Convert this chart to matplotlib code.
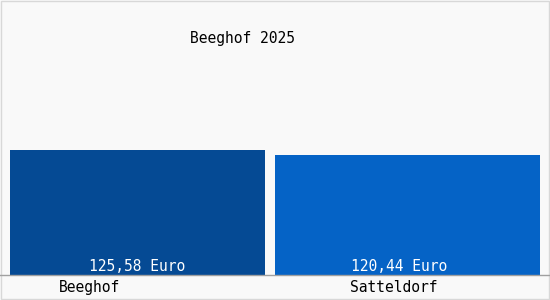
import matplotlib
matplotlib.use("Agg")
import matplotlib.pyplot as plt
from matplotlib.patches import Rectangle
from matplotlib.lines import Line2D

categories = ["Beeghof", "Satteldorf"]
values = [125.58, 120.44]
value_labels = ["125,58 Euro", "120,44 Euro"]
title = "Beeghof 2025"
colors = ["#054a94", "#0563c6"]

W, H = 550, 300
fig = plt.figure(figsize=(W / 100, H / 100), dpi=100)
fig.patch.set_facecolor("#f9f9f9")

# axes: x 10..540 px, y bottom at 275 px from top, top at 0
ax = fig.add_axes([10 / W, 25 / H, 530 / W, 275 / H])
ax.set_facecolor("none")
ax.set_xlim(0, 2)
ymax = values[0] * 275 / 125
ax.set_ylim(0, ymax)
ax.axis("off")

lefts = [0, 1]
widths = [255 / 265, 1.0]
ax.bar(lefts, values, width=widths, align="edge", color=colors, linewidth=0)

font = dict(family="DejaVu Sans Mono", fontsize=10.5)
label_x = [lefts[0] + widths[0] / 2, lefts[1] + 0.47]
for xx, lab in zip(label_x, value_labels):
    ax.text(xx, 0.8, lab, ha="center", va="bottom", color="white", **font)

cat_x = [(90 - 10) / 265, (394 - 10) / 265]
for xx, lab in zip(cat_x, categories):
    ax.text(xx, -12.5, lab, ha="center", va="center", color="black",
            clip_on=False, **font)

fig.text(243 / W, 1 - 38 / H, title, ha="center", va="center", color="black", **font)

# baseline and frame
fig.add_artist(Line2D([0, 1], [25 / H, 25 / H], color="#a0a0a0", lw=1))
fig.add_artist(Rectangle((1 / W, 1 / H), 548 / W, 298 / H, fill=False,
                         edgecolor="#d8d8d8", lw=1, transform=fig.transFigure))

fig.savefig("out.png", dpi=100, facecolor=fig.get_facecolor())
